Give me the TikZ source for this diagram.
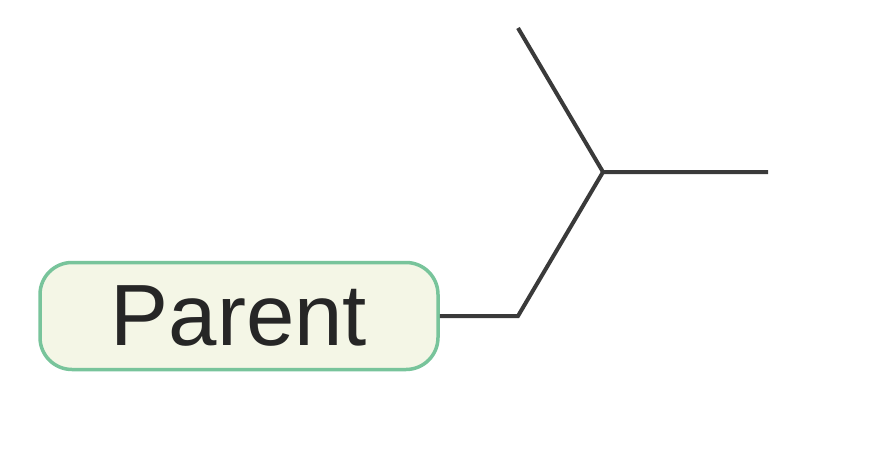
\documentclass[tikz,border=0pt]{standalone}
\usepackage{fontspec}
\setmainfont{Liberation Sans}
\definecolor{nodefill}{HTML}{F4F6E6}
\definecolor{nodeborder}{HTML}{78C49B}
\definecolor{linegray}{HTML}{3A3A3A}
\begin{document}
\begin{tikzpicture}[x=1pt,y=-1pt,
  parentbox/.style={draw=nodeborder, fill=nodefill, line width=3.5pt, rounded corners=32pt,
    minimum width=398pt, minimum height=107pt, inner sep=0pt,
    font=\fontsize{87}{90}\selectfont, text=black!85},
  branch/.style={draw=linegray, line width=4pt}]
\useasboundingbox (0,0) rectangle (887,458);
\node[parentbox] (parent) at (239,316) {Parent};
\coordinate (j1) at (518,316);
\coordinate (j2) at (603,172);
\coordinate (tip1) at (518,28);
\coordinate (tip2) at (768,172);
\draw[branch] (parent.east) -- (j1) -- (j2) -- (tip2);
\draw[branch] (j2) -- (tip1);
\end{tikzpicture}
\end{document}
